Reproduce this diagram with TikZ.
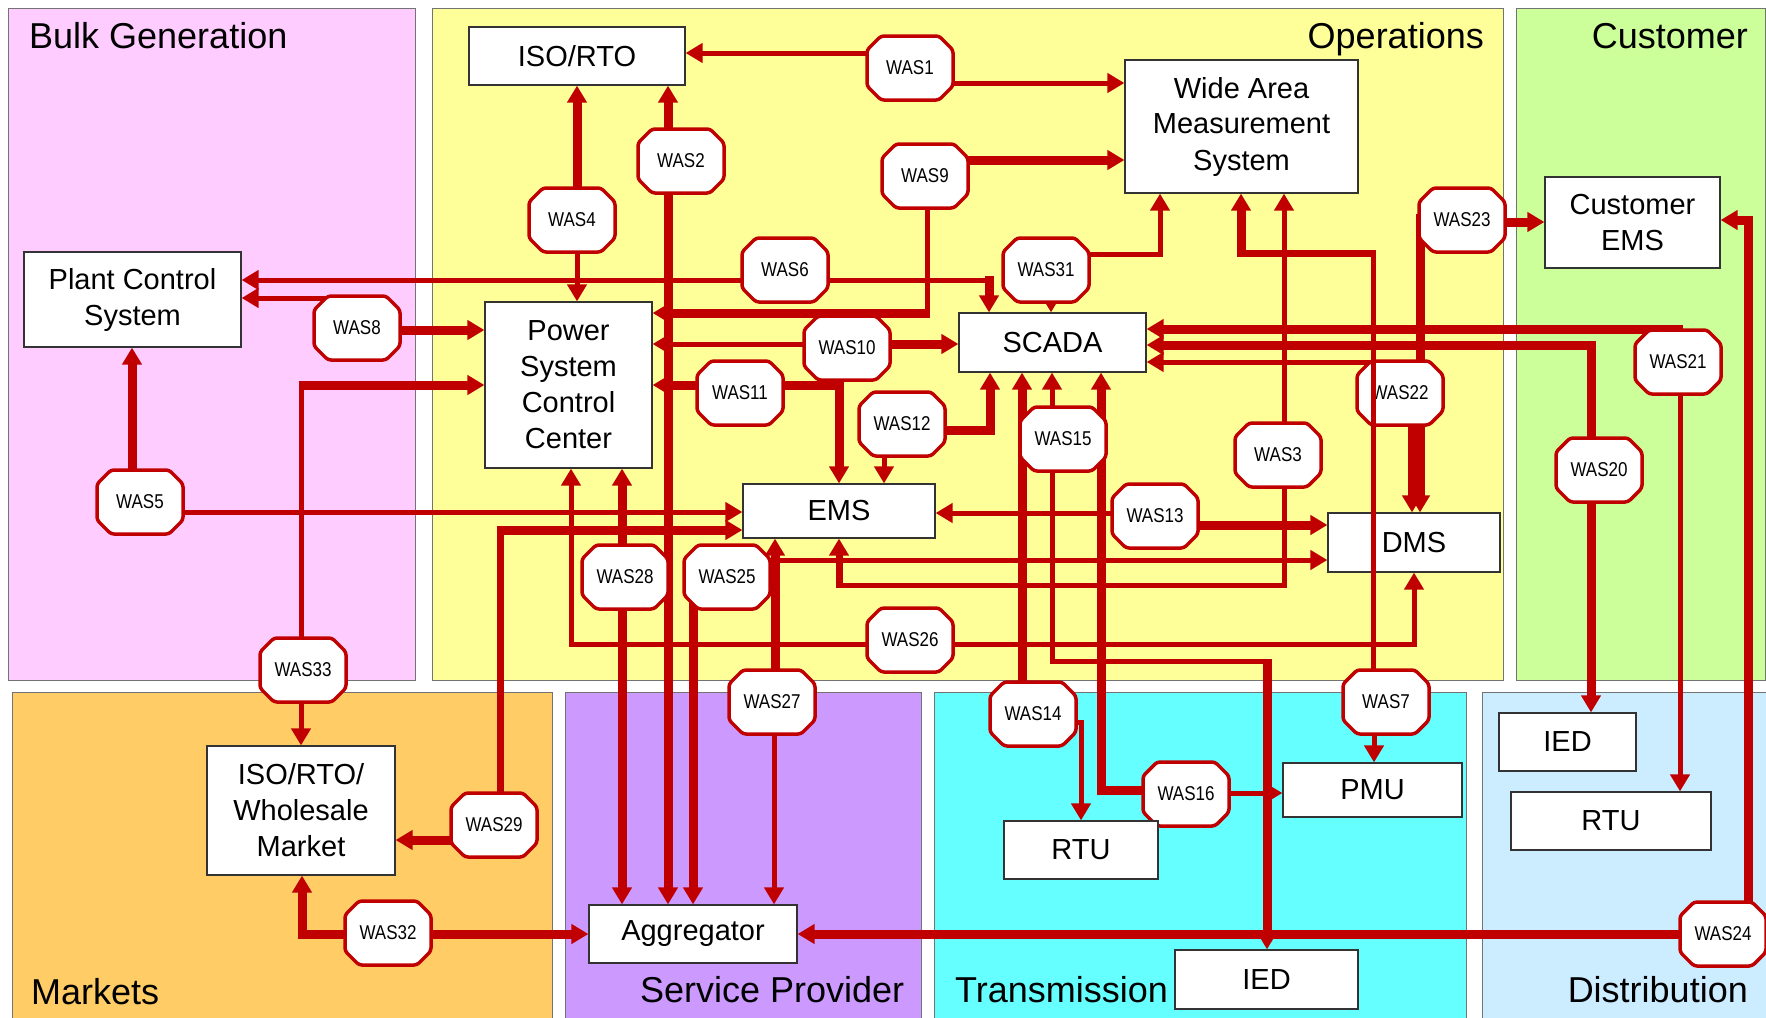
\documentclass[tikz,border=0pt]{standalone}
\usepackage{fontspec}
\setmainfont{Liberation Sans}
\newfontfamily\wasfont[FakeStretch=0.85]{Liberation Sans}
\usetikzlibrary{arrows.meta}
\pgfdeclarelayer{regions}\pgfdeclarelayer{lines}\pgfdeclarelayer{octs}
\pgfsetlayers{regions,lines,octs,main}
\definecolor{wred}{HTML}{C00000}
\definecolor{pinkc}{HTML}{FFCCFF}
\definecolor{yelc}{HTML}{FFFF99}
\definecolor{grnc}{HTML}{CCFF99}
\definecolor{orac}{HTML}{FFCC66}
\definecolor{purc}{HTML}{CC99FF}
\definecolor{cyac}{HTML}{66FFFF}
\definecolor{bluc}{HTML}{CCECFF}
\begin{document}
\begin{tikzpicture}[x=1pt,y=-1pt,
  >={Triangle[length=17pt,width=19pt]},
  reg/.style={draw=black!55,line width=1pt},
  title/.style={font=\fontsize{36}{40}\selectfont,inner sep=0pt},
  box/.style={draw=black!80,line width=1.2pt,fill=white,align=center,inner sep=0pt,font=\fontsize{29}{36}\selectfont},
  was/.style={rectangle,minimum width=86pt,minimum height=64pt,inner sep=0pt,font=\wasfont\fontsize{20}{20}\selectfont},
  oct/.style={draw=wred,line width=3.5pt,fill=white,rounded corners=3pt},
  tn/.style={draw=wred,line width=5pt},
  md/.style={draw=wred,line width=7pt},
  tk/.style={draw=wred,line width=9pt}]
\useasboundingbox (0,0) rectangle (1766,1017);
\begin{pgfonlayer}{regions}
\fill[white] (0,0) rectangle (1766,1017);
\draw[reg,fill=pinkc] (8,8) rectangle (415,680);
\draw[reg,fill=yelc] (432,8) rectangle (1503,680);
\draw[reg,fill=grnc] (1516,8) rectangle (1765,680);
\draw[reg,fill=orac] (12,692) rectangle (552,1020);
\draw[reg,fill=purc] (565,692) rectangle (921,1020);
\draw[reg,fill=cyac] (934,692) rectangle (1466,1020);
\draw[reg,fill=bluc] (1482,692) rectangle (1770,1020);
\end{pgfonlayer}
% region titles
\node[title,anchor=base west] (tBulk) at (29,48) {Bulk Generation};
\node[title,anchor=base east] (tOps) at (1484,48) {Operations};
\node[title,anchor=base east] (tCust) at (1748,48) {Customer};
\node[title,anchor=base west] (tMkt) at (31,1004) {Markets};
\node[title,anchor=base west] (tSP) at (640,1002) {Service Provider};
\node[title,anchor=base west] (tTr) at (955,1002) {Transmission};
\node[title,anchor=base east] (tDi) at (1748,1002) {Distribution};
% boxes
\node[box,minimum width=216pt,minimum height=58pt] (iso) at (577,56) {ISO/RTO};
\node[box,minimum width=233pt,minimum height=133pt] (wam) at (1241.5,126.5) {Wide Area\\Measurement\\System};
\node[box,minimum width=175pt,minimum height=91pt] (cems) at (1632.5,222.5) {Customer\\EMS};
\node[box,minimum width=217pt,minimum height=95pt] (pcs) at (132.5,299.5) {Plant Control\\System};
\node[box,minimum width=167pt,minimum height=166pt] (pscc) at (568.5,385) {Power\\System\\Control\\Center};
\node[box,minimum width=187pt,minimum height=59pt] (scada) at (1052.5,342.5) {SCADA};
\node[box,minimum width=192pt,minimum height=54pt] (ems) at (839,511) {EMS};
\node[box,minimum width=172pt,minimum height=59pt] (dms) at (1414,542.5) {DMS};
\node[box,minimum width=188pt,minimum height=129pt] (wsm) at (301,810.5) {ISO/RTO/\\Wholesale\\Market};
\node[box,minimum width=208pt,minimum height=58pt] (agg) at (693,934) {Aggregator};
\node[box,minimum width=154pt,minimum height=58pt] (rtuT) at (1081,850) {RTU};
\node[box,minimum width=179pt,minimum height=54pt] (pmu) at (1372.5,790) {PMU};
\node[box,minimum width=183pt,minimum height=59pt] (iedT) at (1266.5,979.5) {IED};
\node[box,minimum width=137pt,minimum height=58pt] (iedD) at (1567.5,742) {IED};
\node[box,minimum width=200pt,minimum height=58pt] (rtuD) at (1611,821) {RTU};
% WAS nodes
\node[was] (was1) at (910,68) {WAS1};
\node[was] (was2) at (681,161) {WAS2};
\node[was] (was3) at (1278,455) {WAS3};
\node[was] (was4) at (572,220) {WAS4};
\node[was] (was5) at (140,502) {WAS5};
\node[was] (was6) at (785,270) {WAS6};
\node[was] (was7) at (1386,702) {WAS7};
\node[was] (was8) at (357,328) {WAS8};
\node[was] (was9) at (925,176) {WAS9};
\node[was] (was10) at (847,348) {WAS10};
\node[was] (was11) at (740,393) {WAS11};
\node[was] (was12) at (902,424) {WAS12};
\node[was] (was13) at (1155,516) {WAS13};
\node[was] (was14) at (1033,714) {WAS14};
\node[was] (was15) at (1063,439) {WAS15};
\node[was] (was16) at (1186,794) {WAS16};
\node[was] (was20) at (1599,470) {WAS20};
\node[was] (was21) at (1678,362) {WAS21};
\node[was] (was22) at (1400,393) {WAS22};
\node[was] (was23) at (1462,220) {WAS23};
\node[was] (was24) at (1723,934) {WAS24};
\node[was] (was25) at (727,577) {WAS25};
\node[was] (was26) at (910,640) {WAS26};
\node[was] (was27) at (772,702) {WAS27};
\node[was] (was28) at (625,577) {WAS28};
\node[was] (was29) at (494,825) {WAS29};
\node[was] (was31) at (1046,270) {WAS31};
\node[was] (was32) at (388,933) {WAS32};
\node[was] (was33) at (303,670) {WAS33};
\begin{pgfonlayer}{octs}
\foreach \n in {was1,was2,was3,was4,was5,was6,was7,was8,was9,was10,was11,was12,was13,was14,was15,was16,was20,was21,was22,was23,was24,was25,was26,was27,was28,was29,was31,was32,was33}
  {\draw[oct,shift={(\n.center)}] (-29,-32) -- (29,-32) -- (43,-18) -- (43,18) -- (29,32) -- (-29,32) -- (-43,18) -- (-43,-18) -- cycle;}
\end{pgfonlayer}
\begin{pgfonlayer}{lines}
% WAS1
\draw[tn,->] (was1.center |- 0,53) -- (iso.east |- 0,53);
\draw[tn,->] (was1.center |- 0,83) -- (wam.west |- 0,83);
% WAS2
\draw[tk,<->] (iso.south -| 668,0) -- (agg.north -| 668,0);
% WAS4
\draw[tk,->] (was4.center -| 577,0) -- (iso.south -| 577,0);
\draw[tn,->] (was4.center -| 577,0) -- (pscc.north -| 577,0);
% WAS6
\draw[tn,->] (was6.center |- 0,280) -- (pcs.east |- 0,280);
\draw[tn] (was6.center |- 0,280) -- (994,280);
\draw[tk,->] (989,276) -- (scada.north -| 989,0);
% WAS8
\draw[tn,->] (was8.center |- 0,298) -- (pcs.east |- 0,298);
\draw[tk,->] (was8.center |- 0,330) -- (pscc.west |- 0,330);
% WAS9
\draw[tk,->] (was9.center |- 0,160) -- (wam.west |- 0,160);
\draw[tn] (was9.center -| 927,0) -- (927,317);
\draw[tk,->] (929.5,313) -- (pscc.east |- 0,313);
% WAS10
\draw[tn,->] (was10.center |- 0,344) -- (pscc.east |- 0,344);
\draw[tk,->] (was10.center |- 0,344) -- (scada.west |- 0,344);
\draw[tk,->] (was10.center -| 839,0) -- (ems.north -| 839,0);
% WAS11
\draw[tk,->] (was11.center |- 0,385) -- (pscc.east |- 0,385);
\draw[tk] (was11.center |- 0,385) -- (843,385);
% WAS12
\draw[tk,->] (was12.center |- 0,430) -- (990,430) -- (scada.south -| 990,0);
\draw[tn,->] (was12.center -| 884,0) -- (ems.north -| 884,0);
% WAS13
\draw[tn,->] (was13.center |- 0,513) -- (ems.east |- 0,513);
\draw[tk,->] (was13.center |- 0,525) -- (dms.west |- 0,525);
% WAS3
\draw[tn,->] (was3.center -| 1284,0) -- (wam.south -| 1284,0);
\draw[tn] (was3.center -| 1284,0) -- (1284,585) -- (836,585);
\draw[md,->] (839,588) -- (ems.south -| 839,0);
% WAS29
\draw[md] (was29.center -| 500,0) -- (500,534);
\draw[tk,->] (496.5,530) -- (ems.west |- 0,530);
\draw[tk,->] (was29.center |- 0,840) -- (wsm.east |- 0,840);
% WAS25
\draw[tn,->] (was25.center |- 0,560) -- (dms.west |- 0,560);
\draw[tk,->] (was25.center -| 693,0) -- (agg.north -| 693,0);
% WAS27
\draw[tk,->] (was27.center -| 775,0) -- (ems.south -| 775,0);
\draw[tn,->] (was27.center -| 774,0) -- (agg.north -| 774,0);
% WAS5
\draw[tk,->] (was5.center -| 132,0) -- (pcs.south -| 132,0);
\draw[tn,->] (was5.center |- 0,512) -- (ems.west |- 0,512);
% WAS33
\draw[tn] (was33.center -| 301,0) -- (301,389);
\draw[tk,->] (298.5,385) -- (pscc.west |- 0,385);
\draw[tn,->] (was33.center -| 301,0) -- (wsm.north -| 301,0);
% WAS28
\draw[tk,<->] (pscc.south -| 622,0) -- (agg.north -| 622,0);
% WAS26
\draw[tn,<->] (pscc.south -| 571,0) -- (571,644) -- (1414,644) -- (dms.south -| 1414,0);
% WAS15
\draw[tn,->] (was15.center -| 1052,0) -- (scada.south -| 1052,0);
\draw[tn] (was15.center -| 1052,0) -- (1052,661) -- (1271,661);
\draw[tk,->] (1267,658.5) -- (iedT.north -| 1267,0);
% WAS14
\draw[tk,->] (was14.center -| 1022,0) -- (scada.south -| 1022,0);
\draw[tn,->] (was14.center |- 0,722) -- (1081,722) -- (rtuT.north -| 1081,0);
% WAS16
\draw[tk,->] (was16.center |- 0,790) -- (1101,790) -- (scada.south -| 1101,0);
\draw[tn,->] (was16.center |- 0,793) -- (pmu.west |- 0,793);
% WAS7 lower
\draw[tn,->] (was7.center -| 1374,0) -- (pmu.north -| 1374,0);
% WAS31
\draw[tn,->] (was31.center |- 0,254) -- (1160,254) -- (wam.south -| 1160,0);
\draw[tn,->] (was31.center -| 1051,0) -- (scada.north -| 1051,0);
% WAS21
\draw[tk,->] (was21.center -| 1678,0) -- (1678,329) -- (scada.east |- 0,329);
\draw[tn,->] (was21.center -| 1680,0) -- (rtuD.north -| 1680,0);
% WAS20
\draw[tk,->] (was20.center -| 1591,0) -- (1591,345) -- (scada.east |- 0,345);
\draw[tk,->] (was20.center -| 1591,0) -- (iedD.north -| 1591,0);
% WAS22
\draw[tn,->] (was22.center -| 1412,0) -- (1412,362) -- (scada.east |- 0,362);
\draw[tk,->] (was22.center -| 1412,0) -- (dms.north -| 1412,0);
% WAS23
\draw[tk,->] (was23.center |- 0,222) -- (cems.west |- 0,222);
\draw[tk,->] (was23.center |- 0,218) -- (1420,218) -- (dms.north -| 1420,0);
% WAS24
\draw[tk,->] (was24.center |- 0,934) -- (agg.east |- 0,934);
\draw[tk,->] (was24.center -| 1748,0) -- (1748,220) -- (cems.east |- 0,220);
% WAS32
\draw[tk,->] (was32.center |- 0,934) -- (agg.west |- 0,934);
\draw[tk,->] (was32.center |- 0,934) -- (302,934) -- (wsm.south -| 302,0);
\end{pgfonlayer}
% WAS7 upper path (drawn over WAS22 as in the original)
\draw[tn] (was7.north -| 1373,0) -- (1373,250);
\draw[md] (1376,253) -- (1237,253);
\draw[tk,->] (1241,249.5) -- (wam.south -| 1241,0);
\end{tikzpicture}
\end{document}
